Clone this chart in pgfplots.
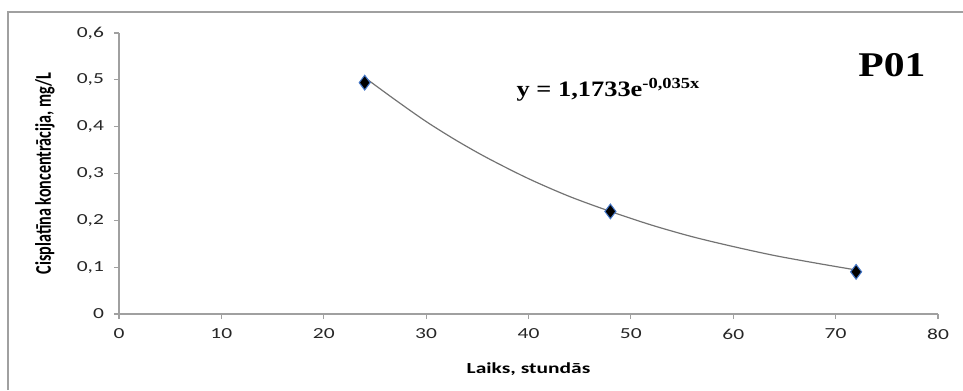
\documentclass[border=0pt]{standalone}
\usepackage{fontspec}
\usepackage{pgfplots}
\pgfplotsset{compat=1.18}
\setmainfont{Carlito}
\newfontfamily\tickfont{Carlito}[FakeStretch=1.4]
\newfontfamily\ylabfont{Carlito}[FakeStretch=0.72]
\newfontfamily\timesbf{Liberation Serif}[FakeStretch=1.2]
\definecolor{axgray}{RGB}{160,160,160}
\definecolor{trend}{RGB}{115,115,115}
\definecolor{mkedge}{RGB}{70,120,200}
\begin{document}
\begin{tikzpicture}[x=0.75pt,y=0.75pt]
\useasboundingbox (0,0) rectangle (963,390);
\draw[axgray, line width=1.5pt] (8,0) -- (8,378) -- (963,378);
\coordinate (O) at (119,76);
\begin{axis}[
  at={(O)}, anchor=origin,
  scale only axis, width=614.25pt, height=210.75pt,
  xmin=0, xmax=80, ymin=0, ymax=0.6,
  xtick={0,10,...,80}, ytick={0,0.1,...,0.6},
  axis x line*=bottom, axis y line*=left,
  axis line style={axgray, line width=0.8pt},
  tick style={axgray, line width=0.8pt},
  tick align=outside, major tick length=3.75pt,
  /pgf/number format/assume math mode=true,
  /pgf/number format/use comma, /pgf/number format/fixed,
  ticklabel style={font=\tickfont\fontsize{11.5}{12}\selectfont, text=black!85},
  xticklabel style={yshift=-4pt},
  yticklabel style={xshift=-4pt},
  xlabel={Laiks, stundās},
  ylabel={Cisplatīna koncentrācija, mg/L},
  xlabel style={font=\tickfont\bfseries\fontsize{11.5}{12}\selectfont, at={(axis description cs:0.5,-0.196)}, anchor=center},
  ylabel style={font=\ylabfont\bfseries\fontsize{16.8}{18}\selectfont, at={(axis description cs:-0.0904,0.5)}, anchor=center},
  clip=false,
]
\addplot[trend, line width=0.9pt, smooth] coordinates {
 (24,0.505) (27,0.457) (30,0.411) (33,0.370) (36,0.333) (40,0.289)
 (44,0.251) (48,0.219) (52,0.190) (56,0.165) (60,0.144) (64,0.125)
 (68,0.109) (72,0.094)};
\addplot[only marks, mark=diamond*, mark size=5.5pt,
  mark options={fill=black, draw=mkedge, line width=0.8pt}] coordinates {
 (24,0.494) (48,0.219) (72,0.090)};
\node[font=\timesbf\bfseries\fontsize{16.5}{18}\selectfont] at (axis cs:47.8,0.479) {y = 1,1733e\textsuperscript{-0,035x}};
\node[font=\timesbf\bfseries\fontsize{26}{28}\selectfont] at (axis cs:75.5,0.531) {P01};
\end{axis}
\end{tikzpicture}
\end{document}
